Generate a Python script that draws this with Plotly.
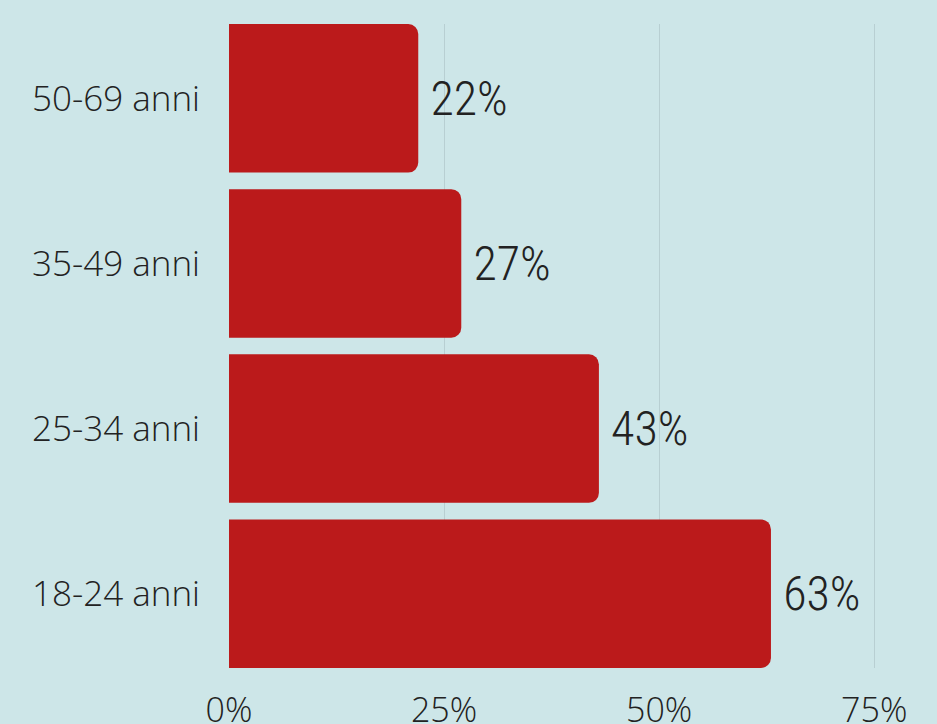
import plotly.graph_objects as go

categories = ["18-24 anni", "25-34 anni", "35-49 anni", "50-69 anni"]
values = [63, 43, 27, 22]
labels = ["63%", "43%", "27%", "22%"]
tick_vals = [0, 25, 50, 75]
tick_text = ["0%", "25%", "50%", "75%"]

BG = "#cde6e8"
RED = "#bb1a1b"
NARROW = "Roboto Condensed, Liberation Sans Narrow, DejaVu Sans Condensed, sans-serif"

fig = go.Figure(go.Bar(
    x=values, y=categories, orientation="h",
    marker=dict(color=RED, line=dict(width=0)),
    text=labels, texttemplate="\u2009%{text}", textposition="outside", cliponaxis=False,
    textfont=dict(family=NARROW, size=48, color="#222222", weight=300),
))

fig.update_layout(
    width=937, height=724,
    paper_bgcolor=BG, plot_bgcolor=BG,
    margin=dict(l=229, r=0, t=24, b=56),
    bargap=0.1, barcornerradius=10,
    showlegend=False,
    xaxis=dict(range=[0, 82.3], tickvals=tick_vals, ticktext=tick_text,
               showgrid=True, gridcolor="#b8cfd2", gridwidth=1,
               zeroline=False, showline=False, ticks="", automargin=False,
               tickfont=dict(family="Open Sans", size=34, color="#222222", weight=300),
               ticklabelstandoff=19),
    yaxis=dict(range=[-0.45, 3.45],
               tickfont=dict(family="Open Sans", size=35, color="#222222", weight=350),
               ticks="", showgrid=False, zeroline=False, showline=False, automargin=False,
               ticklabelstandoff=28),
)

fig.write_html("out.html", config={"displayModeBar": False},
               post_script="document.body.style.margin='0';document.body.style.overflow='hidden';")
